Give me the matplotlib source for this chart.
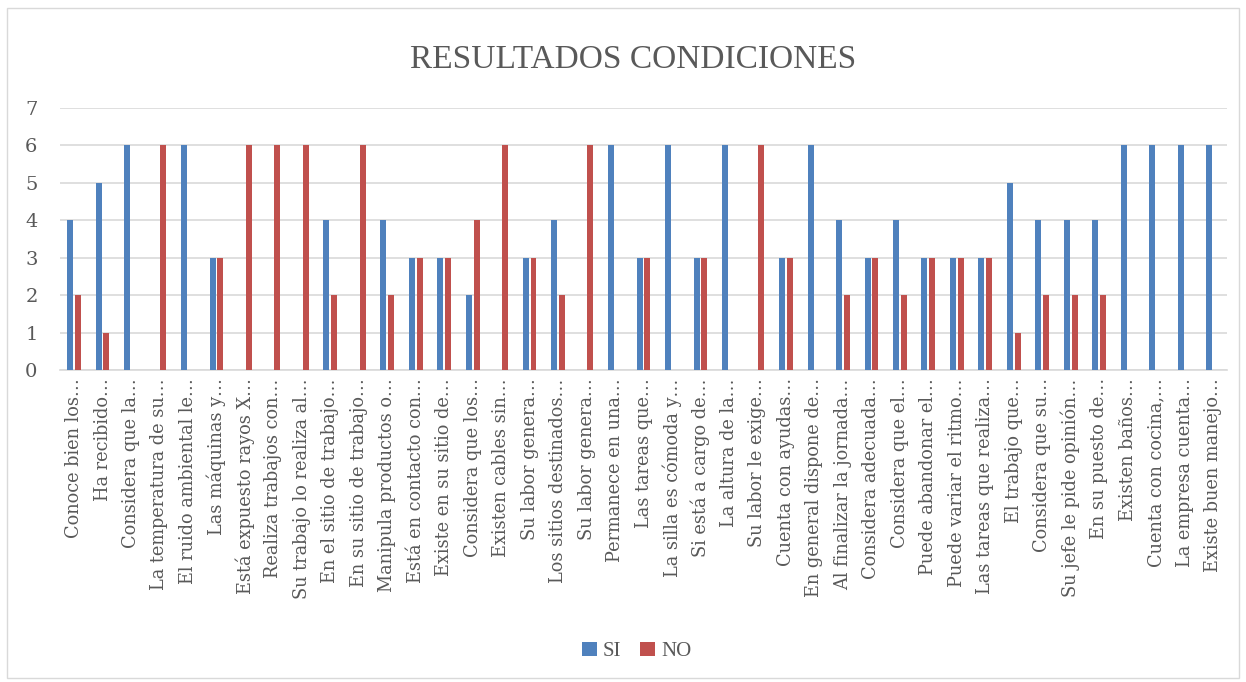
import matplotlib
matplotlib.use("Agg")
import matplotlib.pyplot as plt
import numpy as np
from matplotlib.patches import Rectangle

categories = [
    "Conoce bien los…", "Ha recibido…", "Considera que la…", "La temperatura de su…",
    "El ruido ambiental le…", "Las máquinas y…", "Está expuesto rayos X…", "Realiza trabajos con…",
    "Su trabajo lo realiza al…", "En el sitio de trabajo…", "En su sitio de trabajo…",
    "Manipula productos o…", "Está en contacto con…", "Existe en su sitio de…",
    "Considera que los…", "Existen cables sin…", "Su labor genera…", "Los sitios destinados…",
    "Su labor genera…", "Permanece en una…", "Las tareas que…", "La silla es cómoda y…",
    "Si está a cargo de…", "La altura de la…", "Su labor le exige…", "Cuenta con ayudas…",
    "En general dispone de…", "Al finalizar la jornada…", "Considera adecuada…",
    "Considera que el…", "Puede abandonar el…", "Puede variar el ritmo…",
    "Las tareas que realiza…", "El trabajo que…", "Considera que su…",
    "Su jefe le pide opinión…", "En su puesto de…", "Existen baños…", "Cuenta con cocina,…",
    "La empresa cuenta…", "Existe buen manejo…",
]
si = [4, 5, 6, 0, 6, 3, 0, 0, 0, 4, 0, 4, 3, 3, 2, 0, 3, 4, 0, 6, 3, 6, 3, 6, 0, 3,
      6, 4, 3, 4, 3, 3, 3, 5, 4, 4, 4, 6, 6, 6, 6]
no = [2, 1, 0, 6, 0, 3, 6, 6, 6, 2, 6, 2, 3, 3, 4, 6, 3, 2, 6, 0, 3, 0, 3, 0, 6, 3,
      0, 2, 3, 2, 3, 3, 3, 1, 2, 2, 2, 0, 0, 0, 0]
series_names = ["SI", "NO"]
colors = ["#4F81BD", "#C0504D"]
yticks = list(range(0, 8))

plt.rcParams['font.family'] = ['DejaVu Serif']
text_color = "#595959"

fig = plt.figure(figsize=(12.46, 6.82), dpi=100)
ax = fig.add_axes([0.048, 0.4575, 0.937, 0.3845])

x = np.arange(len(categories))
w = 0.21
ax.bar(x - 0.135, si, width=w, color=colors[0], label=series_names[0], zorder=3)
ax.bar(x + 0.135, no, width=w, color=colors[1], label=series_names[1], zorder=3)

ax.set_xlim(-0.5, len(categories) - 0.5)
ax.set_ylim(0, 7)
ax.set_yticks(yticks)
ax.set_yticklabels([str(t) for t in yticks], fontsize=14, color=text_color)
ax.set_xticks(x)
ax.set_xticklabels(categories, rotation=90, fontsize=12.8, color=text_color, va='top', ha='center')
ax.tick_params(axis='both', length=0)
ax.tick_params(axis='x', pad=6)
ax.tick_params(axis='y', pad=16)
ax.grid(axis='y', color='#D9D9D9', linewidth=1.2, zorder=0)
for s in ['top', 'right', 'left']:
    ax.spines[s].set_visible(False)
ax.spines['bottom'].set_color('#D9D9D9')
ax.spines['bottom'].set_linewidth(1.2)

fig.text(0.508, 0.912, "RESULTADOS CONDICIONES", ha='center', va='center',
         family='Liberation Serif', fontsize=24, color=text_color)

leg = fig.legend(loc='center', bbox_to_anchor=(0.511, 0.045), ncol=2, frameon=False,
                 fontsize=14, handlelength=0.7, handleheight=0.7, handletextpad=0.3,
                 columnspacing=0.9, labelcolor=text_color,
                 prop={'family': 'Liberation Serif', 'size': 15})

fig.patches.append(Rectangle((0.006, 0.006), 0.988, 0.982, transform=fig.transFigure,
                             fill=False, edgecolor='#D9D9D9', linewidth=1))

fig.savefig("out.png", dpi=100, facecolor='white')
